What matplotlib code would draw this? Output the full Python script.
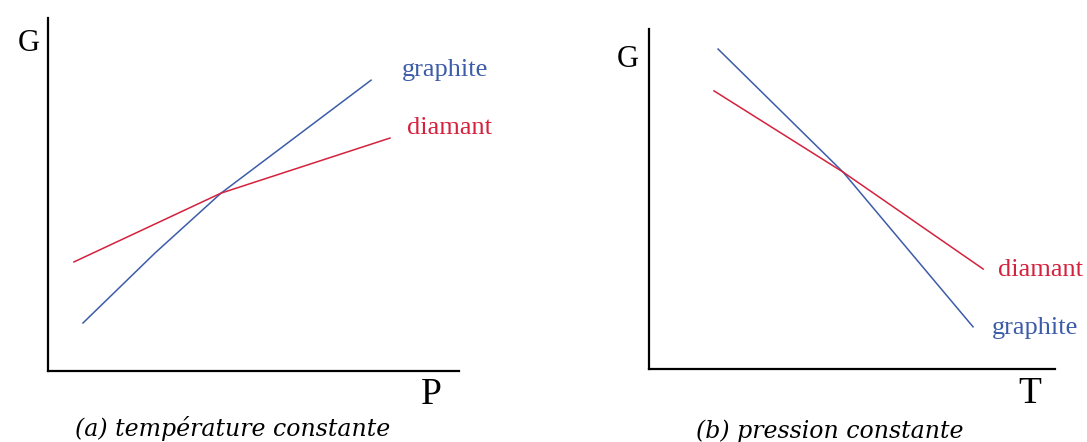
import matplotlib
matplotlib.use("Agg")
import matplotlib.pyplot as plt

# schematic curves G(P) at constant T and G(T) at constant P
# (arbitrary units, axes run 0..10)
p_graphite = [0.85, 2.60, 4.21, 7.86]
g_graphite_p = [1.36, 3.34, 5.04, 8.24]
p_diamant = [0.63, 4.21, 8.32]
g_diamant_p = [3.09, 5.04, 6.60]

t_graphite = [1.70, 4.78, 7.98]
g_graphite_t = [9.41, 5.79, 1.24]
t_diamant = [1.60, 4.78, 8.23]
g_diamant_t = [8.18, 5.79, 2.94]

blue = "#3d5ca8"
red = "#d4213d"
serif = "Liberation Serif"

fig = plt.figure(figsize=(10.87, 4.42), dpi=100)
ax1 = fig.add_axes([0.0442, 0.1606, 0.3781, 0.7986])
ax2 = fig.add_axes([0.5971, 0.1652, 0.3735, 0.7692])

for ax in (ax1, ax2):
    ax.set_xlim(0, 10)
    ax.set_ylim(0, 10)
    ax.spines["top"].set_visible(False)
    ax.spines["right"].set_visible(False)
    ax.spines["left"].set_linewidth(1.6)
    ax.spines["bottom"].set_linewidth(1.6)
    ax.set_xticks([])
    ax.set_yticks([])
    ax.patch.set_alpha(0)

# (a) constant temperature
ax1.plot(p_graphite, g_graphite_p, color=blue, lw=1.1)
ax1.plot(p_diamant, g_diamant_p, color=red, lw=1.1)
ax1.text(-0.46, 9.29, "G", family=serif, fontsize=22, ha="center", va="center")
ax1.text(9.32, -0.68, "P", family=serif, fontsize=27, ha="center", va="center")
ax1.text(8.61, 8.53, "graphite", family=serif, fontsize=19, color=blue, ha="left", va="center")
ax1.text(8.73, 6.88, "diamant", family=serif, fontsize=19, color=red, ha="left", va="center")
ax1.text(4.50, -1.64, "(a) température constante", family="DejaVu Serif",
         style="italic", fontsize=17, ha="center", va="center")

# (b) constant pressure
ax2.plot(t_graphite, g_graphite_t, color=blue, lw=1.1)
ax2.plot(t_diamant, g_diamant_t, color=red, lw=1.1)
ax2.text(-0.52, 9.09, "G", family=serif, fontsize=22, ha="center", va="center")
ax2.text(9.38, -0.74, "T", family=serif, fontsize=27, ha="center", va="center")
ax2.text(8.60, 2.91, "diamant", family=serif, fontsize=19, color=red, ha="left", va="center")
ax2.text(8.45, 1.21, "graphite", family=serif, fontsize=19, color=blue, ha="left", va="center")
ax2.text(4.46, -1.82, "(b) pression constante", family="DejaVu Serif",
         style="italic", fontsize=17, ha="center", va="center")

fig.savefig("out.png", dpi=100)
